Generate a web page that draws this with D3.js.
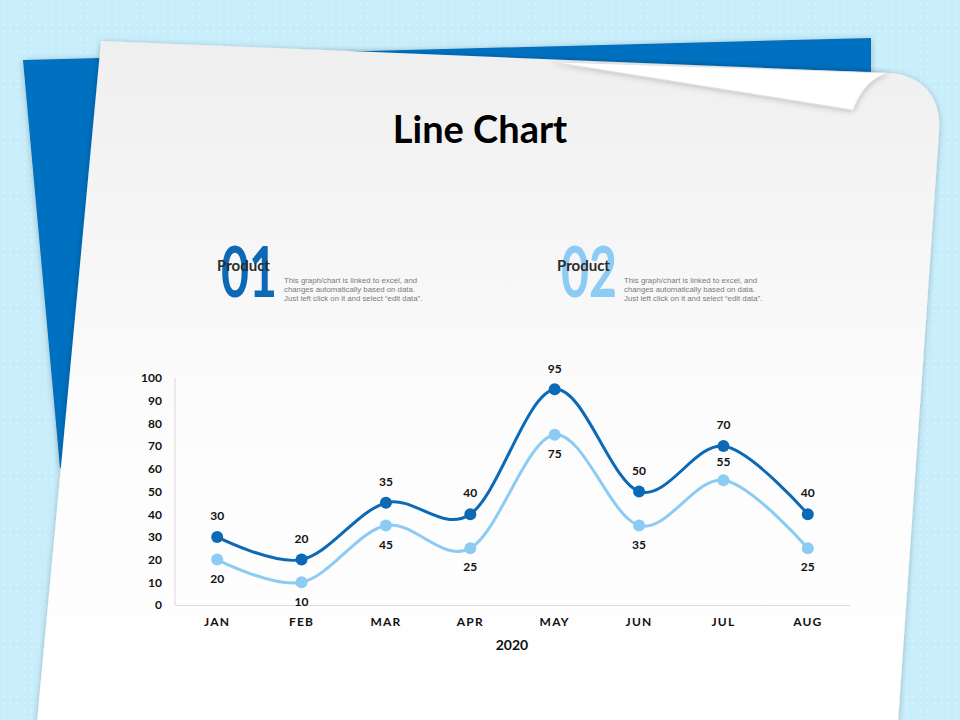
<!DOCTYPE html>
<html>
<head>
<meta charset="utf-8">
<script src="https://d3js.org/d3.v7.min.js"></script>
<style>
  html, body { margin: 0; padding: 0; background: #c8eefc; }
  svg { display: block; }
</style>
</head>
<body>
<script>
// ---- data ----
var months = ["JAN", "FEB", "MAR", "APR", "MAY", "JUN", "JUL", "AUG"];
var product1 = [30, 20, 45, 40, 95, 50, 70, 40];
var product2 = [20, 10, 35, 25, 75, 35, 55, 25];
// labels as printed on the slide (MAR labels are swapped in the original)
var product1Labels = ["30", "20", "35", "40", "95", "50", "70", "40"];
var product2Labels = ["20", "10", "45", "25", "75", "35", "55", "25"];
var yTicks = [0, 10, 20, 30, 40, 50, 60, 70, 80, 90, 100];
var xTitle = "2020";
var descLines = ["This graph/chart  is linked to excel, and",
                 "changes  automatically  based  on data.",
                 "Just left click on it and select  \u201cedit data\u201d."];

var W = 960, H = 720;
var dark = "#0b69b5", light = "#8ccbf3", sheetBlue = "#0070c0";
var font = "Lato, 'DejaVu Sans', sans-serif";

var svg = d3.select("body").append("svg").attr("width", W).attr("height", H);
var defs = svg.append("defs");

/* background dots */
var pat = defs.append("pattern").attr("id", "dots").attr("width", 7).attr("height", 7)
  .attr("patternUnits", "userSpaceOnUse");
pat.append("rect").attr("width", 7).attr("height", 7).attr("fill", "#c8eefc");
pat.append("circle").attr("cx", 3.5).attr("cy", 3.5).attr("r", 1).attr("fill", "#dcf5fe");

var sg = defs.append("linearGradient").attr("id", "sheetGrad")
  .attr("x1", 0).attr("y1", 0).attr("x2", 0).attr("y2", 1);
sg.append("stop").attr("offset", "0%").attr("stop-color", "#efefef");
sg.append("stop").attr("offset", "55%").attr("stop-color", "#fcfcfc");
sg.append("stop").attr("offset", "100%").attr("stop-color", "#ffffff");

var sh = defs.append("filter").attr("id", "shadow")
  .attr("x", "-10%").attr("y", "-10%").attr("width", "120%").attr("height", "120%");
sh.append("feDropShadow").attr("dx", 0).attr("dy", 1).attr("stdDeviation", 3)
  .attr("flood-color", "#000").attr("flood-opacity", 0.25);

svg.append("rect").attr("width", W).attr("height", H).attr("fill", "url(#dots)");

/* back blue sheet */
svg.append("path")
  .attr("d", "M23,60 L871,38 L871,200 L60,468 Z")
  .attr("fill", sheetBlue).attr("filter", "url(#shadow)");

/* white sheet */
svg.append("path")
  .attr("d", "M101,41 L888,73 C925,75 942,100 939,132 L898,722 L37,722 Z")
  .attr("fill", "url(#sheetGrad)").attr("filter", "url(#shadow)");

/* folded corner */
svg.append("path")
  .attr("d", "M553,62 L888,73 C870,78 860,92 853,110 Z")
  .attr("fill", "#ffffff")
  .attr("stroke", "#dadada").attr("stroke-width", 0.6)
  .attr("filter", "url(#shadow)");

/* title */
svg.append("text").attr("x", 480).attr("y", 143).attr("text-anchor", "middle")
  .attr("font-family", font).attr("font-weight", "bold").attr("font-size", 38)
  .attr("fill", "#000").text("Line Chart");

/* legend blocks */
var legend = [{num: "01", color: dark, x: 217}, {num: "02", color: light, x: 557}];
legend.forEach(function(d) {
  var g = svg.append("g").attr("transform", "translate(" + d.x + ",0)");
  g.append("text")
    .attr("transform", "translate(4,297) scale(0.69,1)")
    .attr("font-family", font).attr("font-weight", "bold").attr("font-size", 70)
    .attr("fill", d.color).text(d.num);
  g.append("text").attr("x", 0).attr("y", 271)
    .attr("font-family", font).attr("font-weight", "bold").attr("font-size", 15)
    .attr("fill", "#2b2b2b").text("Product");
  g.selectAll("text.desc").data(descLines).enter().append("text")
    .attr("class", "desc").attr("x", 67)
    .attr("y", function(t, i) { return 283 + i * 9; })
    .attr("font-family", "'Liberation Sans', Arial, sans-serif").attr("font-size", 7.8)
    .attr("fill", "#7a7a7a").text(function(t) { return t; });
});

/* chart */
var x = d3.scaleBand().domain(months).range([175, 850]);
var y = d3.scaleLinear().domain([0, 100]).range([605, 378]);
var cx = function(m) { return x(m) + x.bandwidth() / 2; };

var yAxis = svg.append("g").attr("transform", "translate(175,0)")
  .call(d3.axisLeft(y).tickValues(yTicks).tickSize(0).tickPadding(13));
var xAxis = svg.append("g").attr("transform", "translate(0,605)")
  .call(d3.axisBottom(x).tickSize(0).tickPadding(12));
[yAxis, xAxis].forEach(function(a) {
  a.select(".domain").attr("stroke", "#d9d9d9");
  a.selectAll("text").attr("font-family", font).attr("font-weight", "bold")
    .attr("font-size", 12).attr("fill", "#111");
});
xAxis.selectAll("text").attr("letter-spacing", 1.2);
yAxis.select(".domain").attr("d", "M0,605V378");

svg.append("text").attr("x", 512).attr("y", 650).attr("text-anchor", "middle")
  .attr("font-family", font).attr("font-weight", "bold").attr("font-size", 14)
  .attr("fill", "#111").text(xTitle);

var line = d3.line().curve(d3.curveCardinal.tension(0))
  .x(function(d, i) { return cx(months[i]); })
  .y(function(d) { return y(d); });

var series = [
  {vals: product2, labels: product2Labels, color: light},
  {vals: product1, labels: product1Labels, color: dark}
];
series.forEach(function(s) {
  svg.append("path").datum(s.vals).attr("d", line)
    .attr("fill", "none").attr("stroke", s.color).attr("stroke-width", 3);
  svg.selectAll(null).data(s.vals).enter().append("circle")
    .attr("cx", function(d, i) { return cx(months[i]); })
    .attr("cy", function(d) { return y(d); })
    .attr("r", 6).attr("fill", s.color);
});

// label placement: dark above, light below (JUL light label sits above its point)
function labelOffset(si, i) {
  if (si === 1) return -21;
  return months[i] === "JUL" ? -18 : 19;
}
series.forEach(function(s, si) {
  svg.selectAll(null).data(s.labels).enter().append("text")
    .attr("x", function(d, i) { return cx(months[i]); })
    .attr("y", function(d, i) { return y(s.vals[i]) + labelOffset(si, i); })
    .attr("dy", "0.35em").attr("text-anchor", "middle")
    .attr("font-family", font).attr("font-weight", "bold").attr("font-size", 12)
    .attr("fill", "#111").text(function(d) { return d; });
});
</script>
</body>
</html>
